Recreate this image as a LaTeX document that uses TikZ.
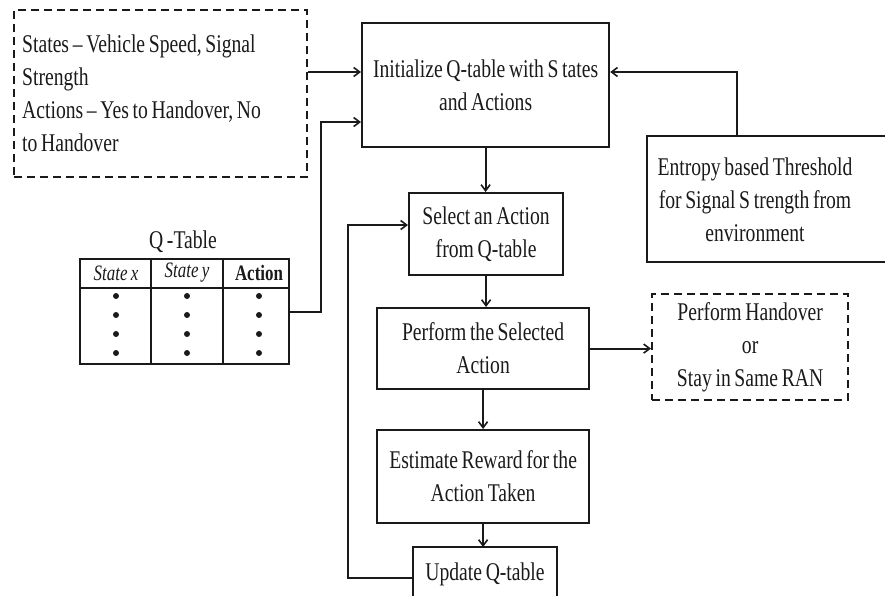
\documentclass[tikz,border=0pt]{standalone}
\usepackage{fontspec}
\setmainfont{Liberation Serif}[FakeStretch=0.77, WordSpace=0.75]
\usetikzlibrary{arrows.meta,calc}
\definecolor{ink}{HTML}{1A1A1A}
\begin{document}
\begin{tikzpicture}[x=1pt,y=-1pt,
  every node/.style={font=\fontsize{25.5}{33}\selectfont, text=ink},
  boxed/.style={draw=ink, line width=2.2pt, anchor=north west, align=center, inner sep=0pt},
  dashbox/.style={boxed, dash pattern=on 8pt off 5pt},
  arr/.style={draw=ink, line width=2pt, -{Straight Barb[length=6pt,width=9pt,line width=1.6pt]}},
  plain/.style={draw=ink, line width=2pt},
  cell/.style={font=\fontsize{22}{24}\selectfont}
]
\useasboundingbox (0,0) rectangle (885,595);

% boxes
\node[dashbox, minimum width=293pt, minimum height=167pt] (states) at (13,9) {};
\node[anchor=west, align=left, inner sep=0pt] (statesText) at ([xshift=9pt]states.west)
  {States -- Vehicle Speed, Signal\\Strength\\Actions -- Yes to Handover, No\\to Handover};
\node[boxed, minimum width=247pt, minimum height=124pt] (init) at (361,22)
  {Initialize Q-table with S tates\\and Actions};
\node[boxed, minimum width=154pt, minimum height=82pt] (select) at (408,192)
  {Select an Action\\from Q-table};
\node[boxed, minimum width=212pt, minimum height=81pt] (perform) at (376,307)
  {Perform the Selected\\Action};
\node[boxed, minimum width=212pt, minimum height=93pt] (estimate) at (376,429)
  {Estimate Reward for the\\Action Taken};
\node[dashbox, minimum width=196pt, minimum height=106pt] (hand) at (651,293)
  {Perform Handover\\or\\Stay in Same RAN};

% entropy box (cut by the right edge)
\node[align=center] (entropy) at (755,200)
  {Entropy based Threshold\\for Signal S trength from\\environment};
\draw[plain, line width=2.2pt] (887,136) -| (647,262) -- (887,262);
\coordinate (entTop) at (737,136);

% update box (cut by the bottom edge)
\node (upd) at (485,574) {Update Q-table};
\draw[plain, line width=2.2pt] (413,598) |- (557,547) -- (557,598);
\coordinate (updW) at (413,578);
\coordinate (updN) at (485,547);

% Q-table
\node (qlabel) at (183,242) {Q -Table};
\node[draw=ink, line width=2pt, anchor=north west, minimum width=209pt, minimum height=105pt, inner sep=0pt] (qtab) at (79,258) {};
\draw[plain] (79,288) -- (288,288);
\draw[plain] (151,258) -- (151,363);
\draw[plain] (223,258) -- (223,363);
\node[cell] (h1) at (116,273) {\itshape State x};
\node[cell] (h2) at (187,273) {\itshape State y};
\node[cell] (h3) at (259,273) {\bfseries Action};
\foreach \x in {116,187,259}
  \foreach \y in {296,315,334,353}
    \fill[ink] (\x,\y) circle (3pt);

% connectors
\coordinate (yA) at (0,72);
\coordinate (yB) at (0,122);
\coordinate (yC) at (0,312);
\coordinate (yD) at (0,225);
\coordinate (xQ) at (321,0);
\coordinate (xL) at (348,0);
\draw[arr] (states.east |- yA) -- (init.west |- yA);
\draw[arr] (qtab.east |- yC) -- (xQ |- yC) -- (xQ |- yB) -- (init.west |- yB);
\draw[arr] (entTop) -- (entTop |- yA) -- (init.east |- yA);
\draw[arr] (init.south) -- (init.south |- select.north);
\draw[arr] (select.south) -- (select.south |- perform.north);
\draw[arr] (perform.east) -- (perform.east -| hand.west);
\draw[arr] (perform.south) -- (estimate.north);
\draw[arr] (estimate.south) -- (estimate.south |- updN);
\draw[arr] (updW) -- (xL |- updW) -- (xL |- yD) -- (select.west |- yD);
\end{tikzpicture}
\end{document}
